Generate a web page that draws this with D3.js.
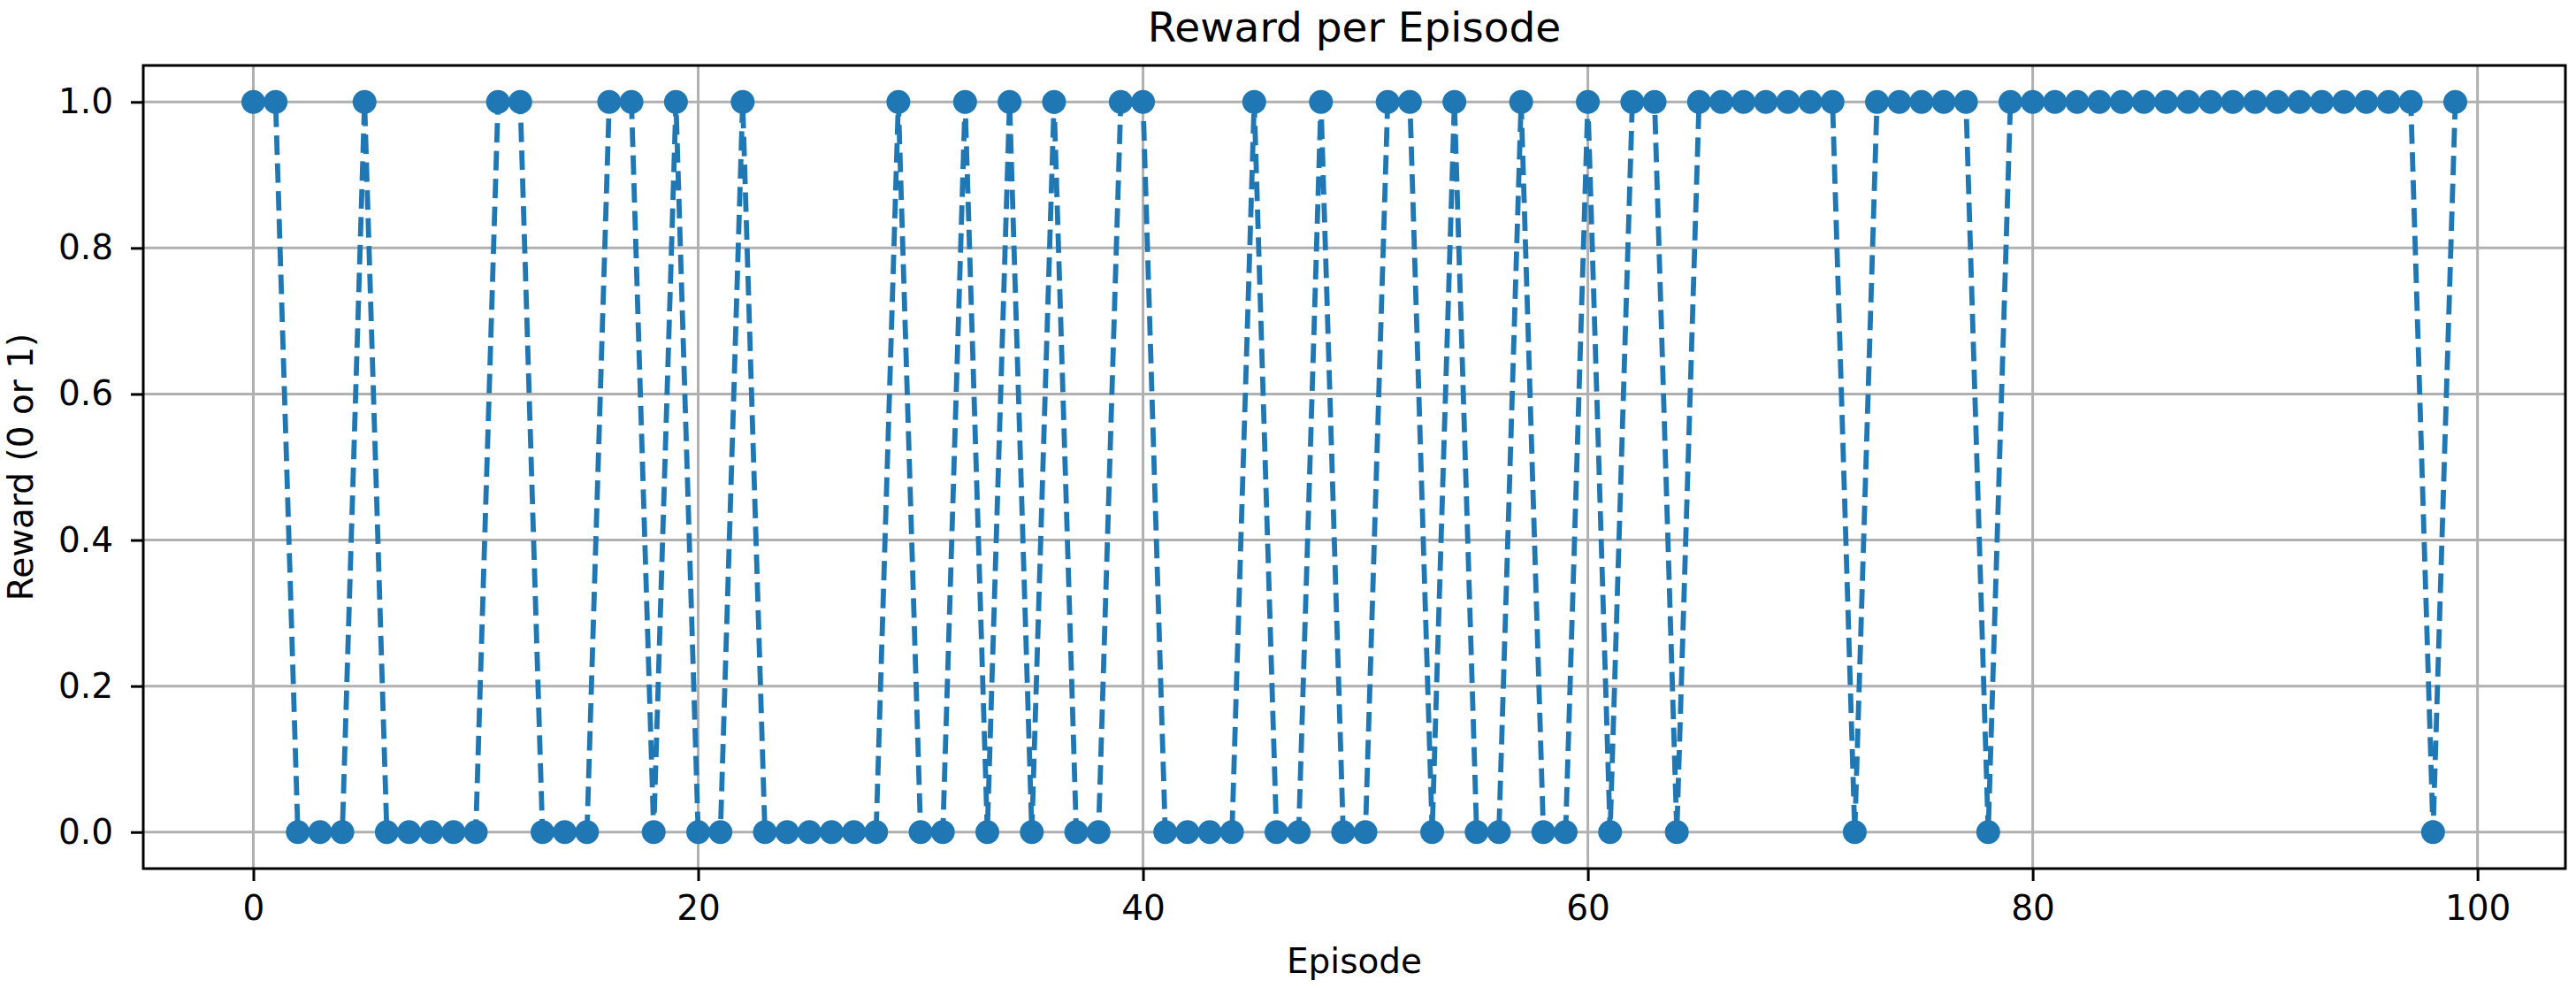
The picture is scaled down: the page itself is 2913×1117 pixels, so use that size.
<!DOCTYPE html>
<html>
<head>
<meta charset="utf-8">
<script src="https://cdn.jsdelivr.net/npm/d3@7.9.0/dist/d3.min.js"></script>
<style>
  body { margin: 0; background: #fff; }
  svg { display: block; font-family: "DejaVu Sans", sans-serif; }
</style>
</head>
<body>
<svg id="chart" width="2913" height="1117"></svg>
<script>
// reward for each episode, 0..99
const episodes = d3.range(0, 100);
const rewards = [
  1, 1, 0, 0, 0, 1, 0, 0, 0, 0,
  0, 1, 1, 0, 0, 0, 1, 1, 0, 1,
  0, 0, 1, 0, 0, 0, 0, 0, 0, 1,
  0, 0, 1, 0, 1, 0, 1, 0, 0, 1,
  1, 0, 0, 0, 0, 1, 0, 0, 1, 0,
  0, 1, 1, 0, 1, 0, 0, 1, 0, 0,
  1, 0, 1, 1, 0, 1, 1, 1, 1, 1,
  1, 1, 0, 1, 1, 1, 1, 1, 0, 1,
  1, 1, 1, 1, 1, 1, 1, 1, 1, 1,
  1, 1, 1, 1, 1, 1, 1, 1, 0, 1
];
const xTicks = [0, 20, 40, 60, 80, 100];
const yTicks = [0, 0.2, 0.4, 0.6, 0.8, 1.0];

const plotLeft = 162, plotRight = 2901, plotTop = 74, plotBottom = 982;
const blue = '#1f77b4';

let svg = d3.select('#chart');

let x = d3.scaleLinear().domain([-4.95, 103.95]).range([plotLeft, plotRight]);
let y = d3.scaleLinear().domain([-0.05, 1.05]).range([plotBottom, plotTop]);

// grid
let grid = svg.append('g').attr('stroke', '#b0b0b0').attr('stroke-width', 3);
xTicks.forEach((t) => {
  grid.append('line')
    .attr('x1', x(t)).attr('x2', x(t))
    .attr('y1', plotTop).attr('y2', plotBottom);
});
yTicks.forEach((t) => {
  grid.append('line')
    .attr('x1', plotLeft).attr('x2', plotRight)
    .attr('y1', y(t)).attr('y2', y(t));
});

let data = episodes.map((e, i) => ({ ep: e, r: rewards[i] }));

let line = d3.line().x((d) => x(d.ep)).y((d) => y(d.r));

svg.append('path')
  .datum(data)
  .attr('d', line)
  .attr('fill', 'none')
  .attr('stroke', blue)
  .attr('stroke-width', 5.8)
  .attr('stroke-dasharray', '22,9.5');

svg.append('g')
  .selectAll('circle')
  .data(data)
  .join('circle')
  .attr('cx', (d) => x(d.ep))
  .attr('cy', (d) => y(d.r))
  .attr('r', 13.5)
  .attr('fill', blue);

// axes
let xAxis = svg.append('g')
  .attr('transform', `translate(0,${plotBottom})`)
  .call(d3.axisBottom(x).tickValues(xTicks).tickSize(14).tickPadding(16).tickFormat(d3.format('d')));

let yAxis = svg.append('g')
  .attr('transform', `translate(${plotLeft},0)`)
  .call(d3.axisLeft(y).tickValues(yTicks).tickSize(14).tickPadding(20).tickFormat(d3.format('.1f')));

[xAxis, yAxis].forEach((a) => {
  a.select('.domain').remove();
  a.selectAll('.tick line').attr('stroke', '#000').attr('stroke-width', 3);
  a.selectAll('.tick text')
    .attr('fill', '#000')
    .style('font-size', '39px')
    .style('font-family', '"DejaVu Sans", sans-serif');
});

// frame
svg.append('rect')
  .attr('x', plotLeft).attr('y', plotTop)
  .attr('width', plotRight - plotLeft).attr('height', plotBottom - plotTop)
  .attr('fill', 'none')
  .attr('stroke', '#000')
  .attr('stroke-width', 3);

svg.append('text')
  .attr('x', (plotLeft + plotRight) / 2).attr('y', 47)
  .attr('text-anchor', 'middle')
  .style('font-size', '47px')
  .text('Reward per Episode');

svg.append('text')
  .attr('x', (plotLeft + plotRight) / 2).attr('y', 1100)
  .attr('text-anchor', 'middle')
  .style('font-size', '39px')
  .text('Episode');

svg.append('text')
  .attr('transform', `translate(37,${(plotTop + plotBottom) / 2}) rotate(-90)`)
  .attr('text-anchor', 'middle')
  .style('font-size', '39px')
  .text('Reward (0 or 1)');
</script>
</body>
</html>
